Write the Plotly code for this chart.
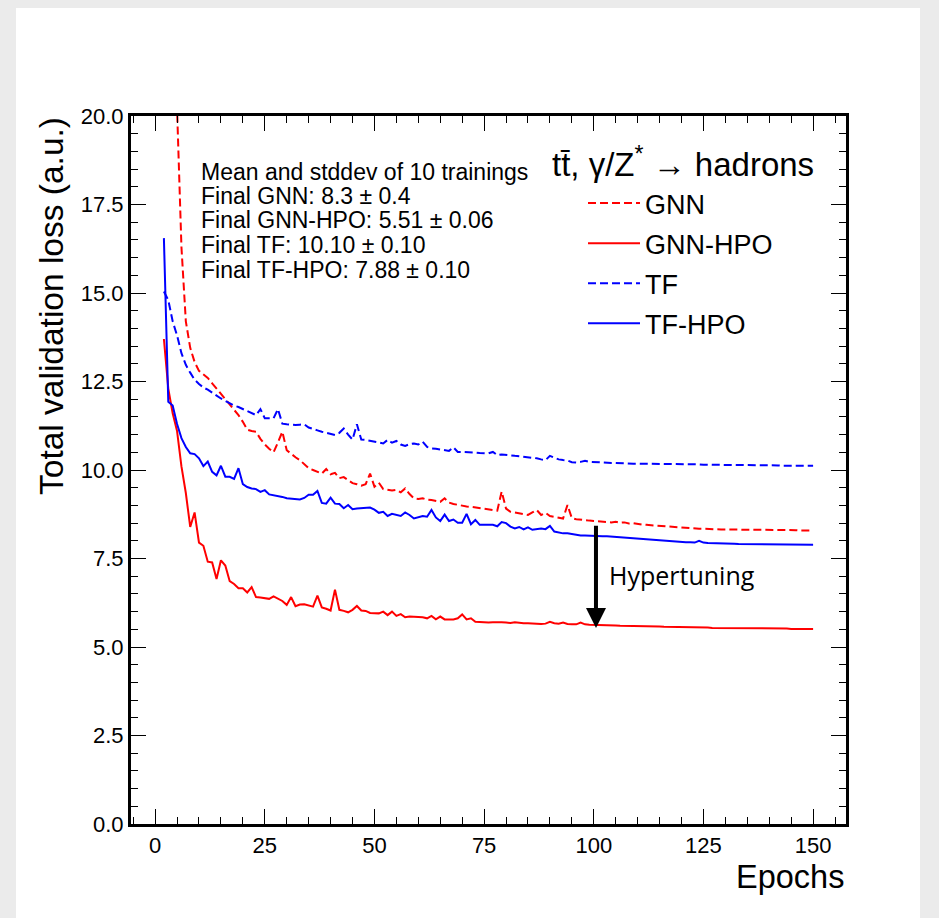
import plotly.graph_objects as go

# ---------------- data ----------------
epochs = list(range(2, 151))

gnn = [38.0, 27.0, 22.5, 20.2, 16.3, 14.2, 13.45, 13.05, 12.8,
       12.7, 12.6, 12.45, 12.3, 12.15, 12.0, 11.85, 11.72, 11.55, 11.36,
       11.14, 11.1, 11.08, 10.88, 10.72, 10.6, 10.5, 10.78, 11.08, 10.56,
       10.45, 10.36, 10.28, 10.15, 10.05, 10.0, 9.96, 9.9, 10.03, 9.88,
       9.92, 9.77, 9.8, 9.72, 9.63, 9.6, 9.56, 9.6, 9.9, 9.53,
       9.64, 9.46, 9.43, 9.42, 9.44, 9.37, 9.48, 9.32, 9.2, 9.18,
       9.2, 9.16, 9.15, 9.12, 9.1, 9.2, 9.08, 9.04, 9.01, 8.99,
       8.97, 8.96, 8.94, 8.93, 8.92, 8.9, 8.87, 8.85, 9.39, 8.91,
       8.82, 8.8, 8.77, 8.75, 8.73, 8.8, 8.87, 8.73, 8.79, 8.7,
       8.67, 8.64, 8.63, 9.01, 8.64, 8.61, 8.59, 8.58, 8.57, 8.56,
       8.55, 8.54, 8.55, 8.52, 8.54, 8.51, 8.52, 8.49, 8.5, 8.47,
       8.46, 8.45, 8.44, 8.43, 8.42, 8.41, 8.39, 8.38, 8.37, 8.37,
       8.36, 8.35, 8.35, 8.34, 8.34, 8.33, 8.33, 8.33, 8.32, 8.32,
       8.32, 8.32, 8.31, 8.31, 8.31, 8.31, 8.31, 8.30, 8.30, 8.30,
       8.30, 8.30, 8.30, 8.30, 8.30, 8.30, 8.29, 8.29, 8.29, 8.29]

gnn_hpo = [13.7, 12.3, 11.6, 11.1, 10.1, 9.35, 8.39, 8.8, 7.95,
           7.86, 7.41, 7.39, 6.92, 7.45, 7.3, 6.86, 6.78, 6.66, 6.66,
           6.54, 6.69, 6.41, 6.4, 6.38, 6.36, 6.43, 6.36, 6.3, 6.19,
           6.41, 6.15, 6.2, 6.21, 6.18, 6.14, 6.45, 6.12, 6.08, 6.03,
           6.62, 6.05, 6.02, 5.98, 6.05, 6.16, 6.03, 6.02, 5.96, 5.95,
           5.95, 6.0, 5.9, 6.0, 5.88, 5.93, 5.84, 5.86, 5.86, 5.86,
           5.84, 5.81, 5.88, 5.78, 5.86, 5.78, 5.78, 5.78, 5.81, 5.92,
           5.78, 5.81, 5.71, 5.70, 5.69, 5.69, 5.70, 5.71, 5.70, 5.69,
           5.68, 5.70, 5.68, 5.67, 5.67, 5.66, 5.67, 5.65, 5.66, 5.71,
           5.67, 5.66, 5.69, 5.65, 5.64, 5.64, 5.69, 5.64, 5.63, 5.63,
           5.62, 5.62, 5.61, 5.61, 5.61, 5.60, 5.60, 5.60, 5.59, 5.59,
           5.59, 5.58, 5.58, 5.58, 5.58, 5.57, 5.57, 5.57, 5.56, 5.56,
           5.56, 5.56, 5.55, 5.55, 5.55, 5.55, 5.54, 5.54, 5.54, 5.54,
           5.54, 5.53, 5.53, 5.53, 5.53, 5.53, 5.53, 5.52, 5.52, 5.52,
           5.52, 5.52, 5.52, 5.52, 5.51, 5.51, 5.51, 5.51, 5.51, 5.51]

tf = [15.04, 14.8, 14.2, 13.8, 13.3, 12.97, 12.75, 12.55, 12.43,
      12.33, 12.27, 12.18, 12.1, 12.02, 11.95, 11.88, 11.82, 11.78, 11.72,
      11.68, 11.6, 11.55, 11.72, 11.46, 11.46, 11.46, 11.72, 11.31, 11.29,
      11.27, 11.27, 11.28, 11.29, 11.2, 11.15, 11.12, 11.08, 11.05, 11.03,
      10.99, 11.05, 11.17, 11.0, 10.86, 11.29, 10.86, 10.85, 10.83, 10.82,
      10.78, 10.75, 10.85, 10.77, 10.82, 10.72, 10.68, 10.73, 10.75, 10.72,
      10.8, 10.65, 10.61, 10.6, 10.58, 10.56, 10.54, 10.64, 10.51, 10.51,
      10.51, 10.5, 10.49, 10.48, 10.47, 10.47, 10.51, 10.42, 10.44, 10.42,
      10.41, 10.4, 10.39, 10.38, 10.37, 10.35, 10.33, 10.3, 10.28, 10.4,
      10.35, 10.3, 10.28, 10.27, 10.22, 10.21, 10.23, 10.26, 10.23, 10.22,
      10.21, 10.2, 10.2, 10.2, 10.2, 10.19, 10.19, 10.19, 10.18, 10.18,
      10.18, 10.18, 10.18, 10.17, 10.18, 10.17, 10.17, 10.17, 10.17, 10.16,
      10.16, 10.16, 10.16, 10.16, 10.15, 10.15, 10.15, 10.15, 10.15, 10.15,
      10.14, 10.14, 10.14, 10.14, 10.14, 10.14, 10.13, 10.13, 10.13, 10.13,
      10.13, 10.13, 10.12, 10.12, 10.12, 10.12, 10.12, 10.12, 10.12, 10.12]

tf_hpo = [16.55, 11.93, 11.82, 11.3, 10.9, 10.65, 10.47, 10.45, 10.33,
          10.11, 10.24, 9.95, 9.85, 10.12, 9.81, 9.81, 9.75, 10.05, 9.6,
          9.52, 9.48, 9.46, 9.38, 9.43, 9.31, 9.29, 9.27, 9.24, 9.2,
          9.19, 9.18, 9.17, 9.21, 9.3, 9.3, 9.41, 9.07, 9.05, 9.22,
          9.05, 9.04, 8.92, 9.01, 8.89, 8.91, 8.92, 8.93, 8.94, 8.88,
          8.79, 8.82, 8.7, 8.76, 8.72, 8.7, 8.8, 8.73, 8.63, 8.66,
          8.7, 8.68, 8.87, 8.66, 8.56, 8.74, 8.56, 8.6, 8.51, 8.51,
          8.76, 8.47, 8.59, 8.45, 8.45, 8.45, 8.45, 8.41, 8.53, 8.5,
          8.4, 8.35, 8.39, 8.32, 8.38, 8.31, 8.34, 8.35, 8.33, 8.42,
          8.26, 8.23, 8.21, 8.21, 8.19, 8.16, 8.15, 8.15, 8.14, 8.14,
          8.14, 8.13, 8.13, 8.12, 8.12, 8.11, 8.09, 8.07, 8.06, 8.06,
          8.05, 8.05, 8.04, 8.03, 8.02, 8.01, 7.99, 7.98, 7.97, 7.97,
          7.96, 7.96, 7.95, 8.0, 7.95, 7.94, 7.94, 7.93, 7.93, 7.92,
          7.92, 7.92, 7.91, 7.91, 7.91, 7.91, 7.9, 7.9, 7.9, 7.9,
          7.9, 7.9, 7.9, 7.89, 7.89, 7.89, 7.89, 7.89, 7.89, 7.89]

series_names = ["GNN", "GNN-HPO", "TF", "TF-HPO"]
info_lines = ["Mean and stddev of 10 trainings",
              "Final GNN: 8.3 \u00b1 0.4",
              "Final GNN-HPO: 5.51 \u00b1 0.06",
              "Final TF: 10.10 \u00b1 0.10",
              "Final TF-HPO: 7.88 \u00b1 0.10"]
x_ticks = [0, 25, 50, 75, 100, 125, 150]
y_ticks = [0.0, 2.5, 5.0, 7.5, 10.0, 12.5, 15.0, 17.5, 20.0]
arrow_epoch = 100.5
arrow_from = 8.47
arrow_to = 5.54

# ---------------- figure ----------------
FONT = "Liberation Sans, Arial, Helvetica, sans-serif"
RED = "#ff0000"
BLUE = "#0000ff"
GRAY = "#ebebeb"

fig = go.Figure()
styles = [(gnn, RED, "8px,4px"), (gnn_hpo, RED, "solid"),
          (tf, BLUE, "8px,4px"), (tf_hpo, BLUE, "solid")]
for name, (vals, col, dash) in zip(series_names, styles):
    fig.add_trace(go.Scatter(
        x=epochs, y=vals, mode="lines", name=name, legendgroup=name,
        line=dict(color=col, width=2, dash=dash),
    ))

# page offsets (body margin of 8px) taken into account
OFF = 8
W, H = 939 - OFF, 918 - OFF
L, R, T, B = 131 - OFF, 93, 116 - OFF, 94
pw, ph = W - L - R, H - T - B


def px_x(screen):
    return (screen - OFF - L) / pw


def px_y(screen):
    return (H - B - (screen - OFF)) / ph


axis_common = dict(
    showline=True, linewidth=3, linecolor="black", mirror="ticks",
    ticks="inside", ticklen=15, tickwidth=1.2, tickcolor="black",
    showgrid=False, zeroline=False,
    tickfont=dict(family=FONT, size=22, color="black"),
)

fig.update_xaxes(
    range=[-5.5, 157.5], tickvals=x_ticks, ticktext=[str(v) for v in x_ticks],
    minor=dict(dtick=5, tick0=0, ticks="inside", ticklen=7, tickwidth=1,
               tickcolor="black", showgrid=False),
    **axis_common,
)
fig.update_yaxes(
    range=[0, 20], tickvals=y_ticks, ticktext=[f"{v:.1f}" for v in y_ticks],
    minor=dict(dtick=0.5, tick0=0, ticks="inside", ticklen=7, tickwidth=1,
               tickcolor="black", showgrid=False),
    **axis_common,
)

annotations = []
annotations.append(dict(
    text="Total validation loss (a.u.)", xref="paper", yref="paper",
    x=px_x(52), y=px_y(115), xanchor="center", yanchor="top", textangle=-90,
    showarrow=False, font=dict(family=FONT, size=33.5, color="black")))
annotations.append(dict(
    text="Epochs", xref="paper", yref="paper",
    x=px_x(846), y=px_y(877), xanchor="right", yanchor="middle",
    showarrow=False, font=dict(family=FONT, size=32.5, color="black")))
for line, yc in zip(info_lines, [172, 196, 220, 245, 270]):
    annotations.append(dict(
        text=line, xref="paper", yref="paper", x=px_x(199), y=px_y(yc),
        xanchor="left", yanchor="middle", showarrow=False,
        font=dict(family=FONT, size=23, color="black")))
annotations.append(dict(
    text="tt\u0304, \u03b3/Z<sup>*</sup> \u2192 hadrons", xref="paper", yref="paper",
    x=px_x(550), y=px_y(162), xanchor="left", yanchor="middle", showarrow=False,
    font=dict(family=FONT, size=33, color="black")))
annotations.append(dict(
    x=arrow_epoch, y=arrow_to, ax=arrow_epoch, ay=arrow_from,
    xref="x", yref="y", axref="x", ayref="y", text="", showarrow=True,
    arrowhead=2, arrowsize=1, arrowwidth=4, arrowcolor="black", standoff=0))
annotations.append(dict(
    text="Hypertuning", x=103.0, y=7.03, xref="x", yref="y",
    xanchor="left", yanchor="middle", showarrow=False,
    font=dict(family="Open Sans, Noto Sans, sans-serif", size=25, color="black")))

fig.update_layout(
    width=W, height=H,
    margin=dict(l=L, r=R, t=T, b=B, pad=0),
    paper_bgcolor=GRAY, plot_bgcolor="white",
    font=dict(family=FONT, color="black"),
    showlegend=True,
    legend=dict(
        x=px_x(583), y=px_y(179), xanchor="left", yanchor="top",
        bgcolor="rgba(0,0,0,0)", borderwidth=0,
        font=dict(family=FONT, size=27, color="black"),
        itemwidth=52, tracegroupgap=2, traceorder="grouped",
    ),
    annotations=annotations,
    shapes=[dict(type="rect", xref="paper", yref="paper", layer="below",
                 x0=px_x(16), x1=px_x(920), y0=px_y(960), y1=px_y(8),
                 fillcolor="white", line=dict(width=0))],
)

fig.write_html("out.html",
               post_script="document.body.style.backgroundColor='%s';" % GRAY)
